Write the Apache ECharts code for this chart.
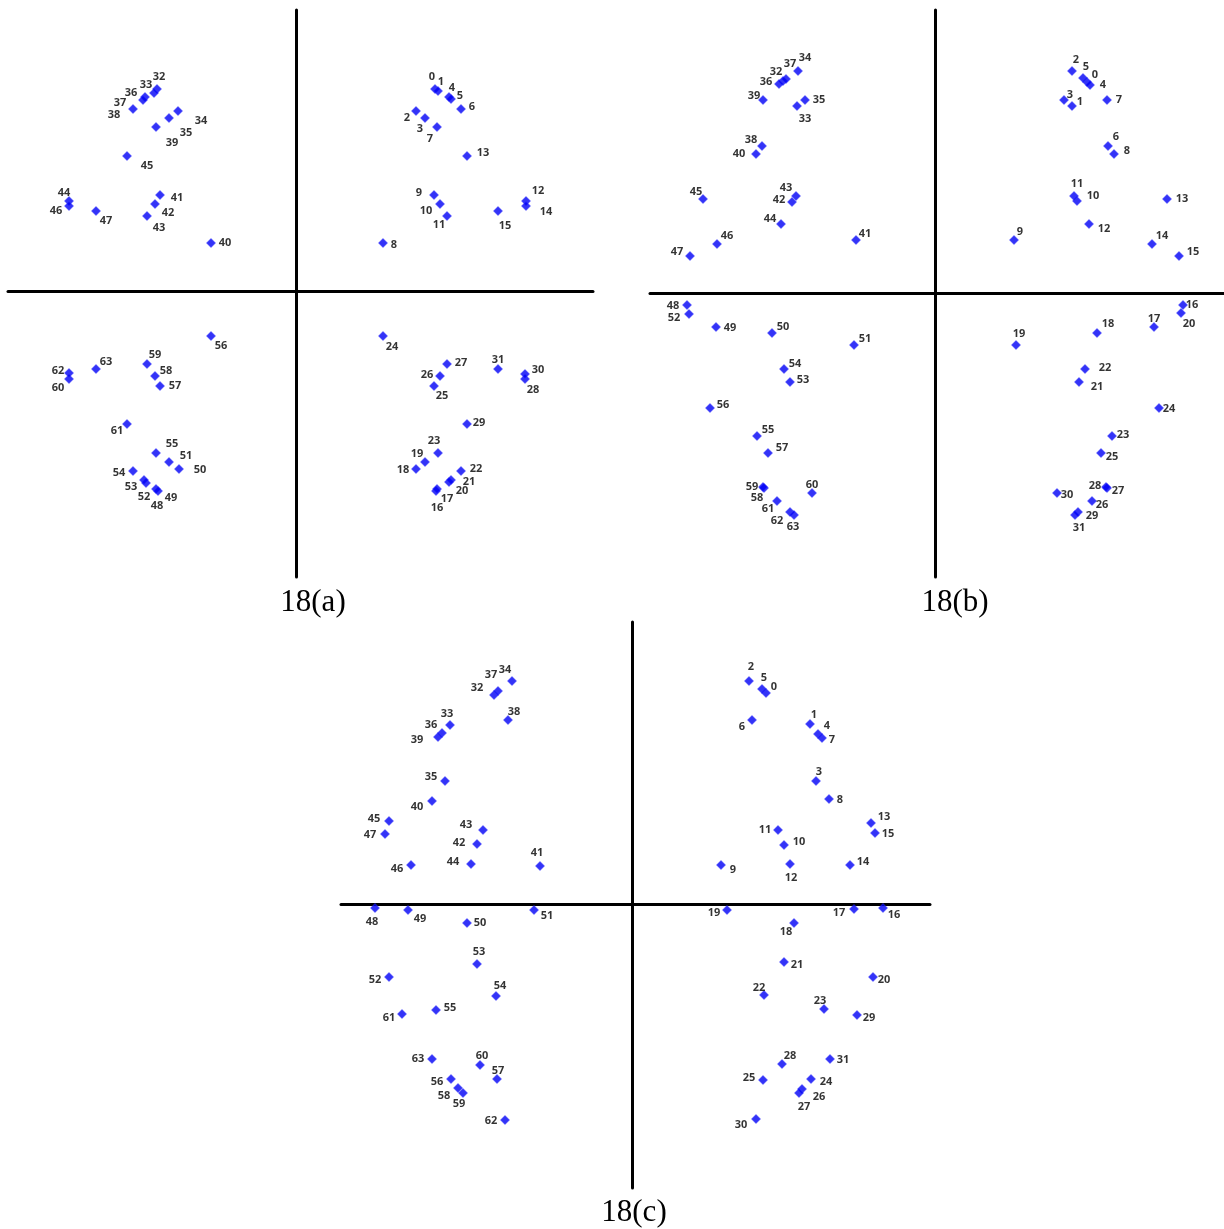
<!DOCTYPE html>
<html>
<head>
<meta charset="utf-8">
<script src="https://cdn.jsdelivr.net/npm/echarts@6/dist/echarts.min.js"></script>
<style>
  html, body { margin: 0; padding: 0; background: #fff; }
  #chart { width: 1224px; height: 1229px; }
</style>
</head>
<body>
<div id="chart"></div>
<script>
// Landmark coordinates (0-63), origin at the crossing of the axes, y pointing up.
const pointsA_x = [139,142,120,129,153,155,165,141,87,138,144,151,230,171,230,202,
                   140,141,120,129,153,155,165,142,87,138,144,151,229,171,229,202,
                   -139,-142,-118,-127,-151,-153,-163,-140,-85,-136,-141,-149,-227,-169,-227,-200,
                   -140,-138,-117,-127,-150,-152,-163,-140,-85,-136,-141,-149,-227,-169,-227,-200];
const pointsA_y = [202,200,180,173,194,192,182,164,48,96,87,75,90,135,85,80,
                   -200,-198,-178,-171,-191,-189,-180,-162,-45,-95,-85,-73,-88,-133,-83,-78,
                   202,198,180,173,194,191,182,164,48,96,87,75,90,135,85,80,
                   -198,-200,-178,-171,-192,-189,-180,-162,-45,-95,-85,-73,-88,-133,-82,-78];

const pointsB_x = [152,137,137,129,155,148,173,172,179,79,142,139,154,232,217,244,
                   248,219,162,81,246,144,150,177,224,166,157,172,171,143,122,140,
                   -152,-138,-137,-130,-156,-149,-173,-172,-179,-79,-143,-139,-154,-232,-218,-245,
                   -248,-219,-163,-81,-246,-145,-151,-178,-225,-167,-171,-172,-123,-158,-145,-141];
const pointsB_y = [211,187,222,193,208,215,147,193,139,53,92,97,69,94,49,37,
                   -12,-34,-40,-52,-20,-89,-76,-143,-115,-160,-208,-195,-194,-219,-200,-222,
                   212,187,222,193,209,214,147,193,139,53,91,97,69,94,49,37,
                   -12,-34,-40,-52,-21,-89,-76,-143,-115,-160,-195,-194,-200,-208,-219,-222];

const pointsC_x = [134,178,117,184,186,130,120,190,197,89,152,146,158,239,218,243,
                   251,222,162,95,241,152,132,192,179,131,170,167,150,225,124,198,
                   -138,-182,-120,-187,-190,-134,-124,-194,-200,-92,-155,-149,-161,-243,-221,-247,
                   -257,-224,-165,-98,-243,-155,-136,-196,-181,-135,-174,-169,-152,-230,-127,-200];
const pointsC_y = [211,180,223,123,170,215,184,166,105,39,59,74,40,81,39,71,
                   -4,-5,-19,-6,-73,-58,-91,-105,-175,-176,-185,-189,-160,-111,-215,-155,
                   209,179,223,123,171,213,184,167,103,38,60,74,40,83,39,70,
                   -4,-6,-19,-6,-73,-60,-92,-106,-175,-175,-184,-189,-161,-110,-216,-155];

const captions = ['18(a)', '18(b)', '18(c)'];

// Label nudges in pixels (label centre relative to its marker), one per landmark.
const labelShiftA = [[-3,-13],[3,-10],[-9,6],[-5,10],[3,-10],[9,-4],[11,-3],[-7,11],[11,1],[-15,-3],[-14,6],[-8,8],[12,-11],[16,-4],[20,5],[7,14],
  [1,16],[10,9],[-13,0],[-8,-9],[13,8],[18,1],[15,-3],[-4,-13],[9,10],[8,9],[-13,-2],[14,-2],[8,10],[12,-2],[13,-5],[0,-10],
  [2,-13],[-8,-9],[23,9],[17,14],[-14,-5],[-23,2],[-19,5],[16,15],[14,-1],[17,2],[13,8],[12,11],[-5,-9],[20,9],[-13,4],[10,9],
  [1,16],[13,6],[21,0],[17,-7],[-2,13],[-13,6],[-14,1],[16,-10],[10,9],[15,-1],[11,-6],[8,-10],[-11,8],[-10,6],[-11,-3],[10,-8]];
const labelShiftB = [[8,-8],[8,-5],[4,-12],[6,-6],[13,-1],[3,-12],[8,-10],[12,-1],[13,-4],[6,-9],[16,-6],[3,-13],[15,4],[15,-1],[10,-9],[14,-5],
  [9,-1],[0,-9],[11,-10],[3,-12],[8,10],[18,4],[20,-2],[11,-2],[10,0],[11,3],[10,3],[11,2],[-11,-2],[14,3],[10,1],[4,12],
  [-7,-10],[8,12],[7,-14],[14,-1],[-13,-3],[4,-16],[-11,-7],[-9,-5],[-17,-1],[9,-7],[-13,-3],[-10,-9],[-11,-6],[-7,-8],[10,-9],[-13,-5],
  [-14,0],[14,0],[11,-7],[11,-7],[-15,3],[13,-3],[11,-6],[11,-7],[13,-4],[14,-6],[-7,9],[-11,-1],[0,-9],[-9,7],[-13,8],[-1,11]];
const labelShiftC = [[8,-7],[4,-10],[2,-15],[3,-10],[9,-9],[2,-12],[-10,6],[10,1],[11,0],[12,4],[15,-4],[-13,-1],[1,13],[13,-7],[13,-4],[13,0],
  [11,6],[-15,3],[-8,8],[-13,2],[11,2],[13,2],[-5,-8],[-4,-9],[15,2],[-14,-3],[17,7],[5,13],[8,-9],[12,2],[-15,5],[13,0],
  [-17,-8],[-3,-12],[-7,-12],[-14,-5],[-11,-9],[-7,-17],[6,-9],[-21,2],[-15,5],[-3,-14],[-18,-2],[-17,-6],[-18,-3],[-15,-3],[-14,3],[-15,0],
  [-3,13],[12,8],[13,-1],[13,5],[-14,2],[2,-13],[4,-11],[14,-3],[-14,2],[1,-9],[-14,7],[-4,10],[2,-10],[-13,3],[-14,0],[-14,-1]];

const panels = [
  { xs: pointsA_x, ys: pointsA_y, shifts: labelShiftA,
    grid: { left: 8, top: 10, width: 585, height: 567 }, xr: [-288, 297], yr: [-286, 281],
    caption: { x: 313, y: 603 } },
  { xs: pointsB_x, ys: pointsB_y, shifts: labelShiftB,
    grid: { left: 650, top: 10, width: 574, height: 567 }, xr: [-285, 289], yr: [-284, 283],
    caption: { x: 955, y: 603 } },
  { xs: pointsC_x, ys: pointsC_y, shifts: labelShiftC,
    grid: { left: 341, top: 622, width: 589, height: 566 }, xr: [-291, 298], yr: [-284, 282],
    caption: { x: 634, y: 1213 } }
];

const axisLine = { onZero: true, lineStyle: { color: '#000', width: 3 } };
const hiddenParts = {
  axisTick: { show: false }, axisLabel: { show: false }, splitLine: { show: false }
};

const grids = [], xAxes = [], yAxes = [], series = [], graphics = [];
panels.forEach((p, k) => {
  grids.push(Object.assign({ containLabel: false }, p.grid));
  xAxes.push(Object.assign({ gridIndex: k, type: 'value', min: p.xr[0], max: p.xr[1], axisLine }, hiddenParts));
  yAxes.push(Object.assign({ gridIndex: k, type: 'value', min: p.yr[0], max: p.yr[1], axisLine }, hiddenParts));
  const data = p.xs.map((x, i) => [x, p.ys[i], i]);
  const shifts = p.shifts;
  series.push({
    type: 'scatter',
    xAxisIndex: k, yAxisIndex: k,
    symbol: 'diamond',
    symbolSize: 9,
    clip: false,
    z: 3,
    itemStyle: { color: '#0000f5', borderColor: 'rgba(60,60,255,0.8)', borderWidth: 0.8 },
    label: {
      show: true,
      position: 'inside',
      align: 'center',
      verticalAlign: 'middle',
      formatter: (d) => String(d.value[2]),
      color: '#000',
      textBorderWidth: 0,
      fontFamily: '"Open Sans"',
      fontWeight: 700,
      fontSize: 11
    },
    labelLayout: (params) => ({
      dx: shifts[params.dataIndex][0],
      dy: shifts[params.dataIndex][1] + 1,
      hideOverlap: false
    }),
    emphasis: { disabled: true },
    data
  });
  graphics.push({
    type: 'text',
    x: p.caption.x, y: p.caption.y,
    style: {
      text: captions[k],
      fill: '#000',
      font: '31px "Liberation Serif"',
      textAlign: 'center',
      textVerticalAlign: 'middle'
    }
  });
});

const chart = echarts.init(document.getElementById('chart'), null, { renderer: 'canvas' });
chart.setOption({
  animation: false,
  backgroundColor: '#fff',
  grid: grids,
  xAxis: xAxes,
  yAxis: yAxes,
  series,
  graphic: graphics
});
</script>
</body>
</html>
